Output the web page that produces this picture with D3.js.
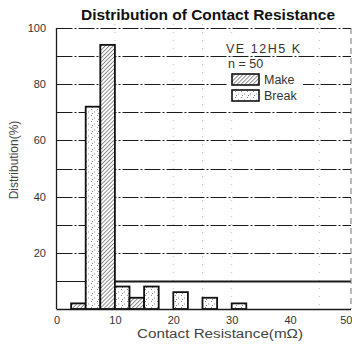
<!DOCTYPE html>
<html>
<head>
<meta charset="utf-8">
<script src="https://cdn.jsdelivr.net/npm/d3@7"></script>
<style>
  html, body { margin: 0; padding: 0; background: #fff; }
  svg { display: block; }
</style>
</head>
<body>
<svg id="chart" width="352" height="349"></svg>
<script>
// Histogram bins (lower edge, mΩ) — each bin is 2.5 mΩ wide
const binStart = [2.5, 5, 7.5, 10, 12.5, 15, 17.5, 20, 22.5, 25, 27.5, 30];
// Share of contacts in each bin (%), n = 50
const makeValues  = [2, 0, 94, 0, 4, 0, 0, 0, 0, 0, 0, 0];
const breakValues = [0, 72, 0, 8, 0, 8, 0, 6, 0, 4, 0, 2];
const binWidth = 2.5;

const xTicks = [0, 10, 20, 30, 40, 50];
const yTicks = [20, 40, 60, 80, 100];
const gridLevels = [10, 20, 30, 40, 50, 60, 70, 80, 90];

const svg = d3.select("#chart");
const x = d3.scaleLinear().domain([0, 50]).range([56.5, 348.5]);
const y = d3.scaleLinear().domain([0, 100]).range([309, 28]);

const defs = svg.append("defs");
// diagonal hatching for "Make"
const hatch = defs.append("pattern")
  .attr("id", "hatch").attr("patternUnits", "userSpaceOnUse")
  .attr("width", 2.8).attr("height", 2.8)
  .attr("patternTransform", "rotate(45)");
hatch.append("rect").attr("width", 2.8).attr("height", 2.8).attr("fill", "#fff");
hatch.append("line").attr("x1", 0).attr("y1", 0).attr("x2", 0).attr("y2", 2.8)
  .attr("stroke", "#333").attr("stroke-width", 1.1);
// sparse stipple for "Break"
const dots = defs.append("pattern")
  .attr("id", "dots").attr("patternUnits", "userSpaceOnUse")
  .attr("width", 6).attr("height", 6);
dots.append("rect").attr("width", 6).attr("height", 6).attr("fill", "#fff");
[[1, 1], [4, 3.5], [2, 5]].forEach(([cx, cy]) =>
  dots.append("rect").attr("x", cx).attr("y", cy).attr("width", 1).attr("height", 1).attr("fill", "#888"));

const ink = "#1a1a1a";
const fontFam = "'Liberation Sans', Arial, sans-serif";

// faint vertical guides
svg.append("g").selectAll("line")
  .data([10, 20, 25, 30, 45])
  .join("line")
  .attr("x1", d => x(d)).attr("x2", d => x(d))
  .attr("y1", y(100) - 4).attr("y2", y(0))
  .attr("stroke", "#aaa").attr("stroke-width", 0.8)
  .attr("stroke-dasharray", "1,7");

// horizontal grid (dash-dot)
svg.append("g").selectAll("line")
  .data(gridLevels)
  .join("line")
  .attr("x1", x(0)).attr("x2", 351)
  .attr("y1", d => Math.round(y(d)) + 0.5).attr("y2", d => Math.round(y(d)) + 0.5)
  .attr("stroke", ink).attr("stroke-width", 1.2)
  .attr("stroke-dasharray", d => d === 10 ? null : "16,2,2,2");

// heavier line at the 10 % level right of the main peak
svg.append("line")
  .attr("x1", x(10)).attr("x2", 351)
  .attr("y1", Math.round(y(10)) + 0.5).attr("y2", Math.round(y(10)) + 0.5)
  .attr("stroke", ink).attr("stroke-width", 2.2);

// top frame line at 100 %
svg.append("line")
  .attr("x1", x(0)).attr("x2", 351)
  .attr("y1", y(100) + 0.5).attr("y2", y(100) + 0.5)
  .attr("stroke", ink).attr("stroke-width", 1.2)
  .attr("stroke-dasharray", "16,2,2,2");
// right frame edge
svg.append("line")
  .attr("x1", 351).attr("x2", 351)
  .attr("y1", y(100)).attr("y2", y(0))
  .attr("stroke", "#777").attr("stroke-width", 1)
  .attr("stroke-dasharray", "6,4");

// bars
const bars = [];
binStart.forEach((b, i) => {
  if (makeValues[i] > 0) bars.push({ x0: b, v: makeValues[i], fill: "url(#hatch)" });
  if (breakValues[i] > 0) bars.push({ x0: b, v: breakValues[i], fill: "url(#dots)" });
});
svg.append("g").selectAll("rect")
  .data(bars)
  .join("rect")
  .attr("x", d => x(d.x0))
  .attr("width", d => x(d.x0 + binWidth) - x(d.x0))
  .attr("y", d => y(d.v))
  .attr("height", d => y(0) - y(d.v))
  .attr("fill", d => d.fill)
  .attr("stroke", "#111").attr("stroke-width", 1.8);

// axes lines
svg.append("line")
  .attr("x1", x(0)).attr("x2", x(0)).attr("y1", y(100)).attr("y2", y(0))
  .attr("stroke", ink).attr("stroke-width", 1.3);
svg.append("line")
  .attr("x1", x(0)).attr("x2", 351).attr("y1", y(0) + 0.5).attr("y2", y(0) + 0.5)
  .attr("stroke", ink).attr("stroke-width", 1.6);

// x tick labels
const xAxis = d3.axisBottom(x).tickValues(xTicks).tickSize(0).tickPadding(0).tickFormat(d3.format("d"));
const gx = svg.append("g").attr("transform", `translate(0,${y(0) + 7})`).call(xAxis);
gx.select(".domain").remove();
gx.selectAll("text").attr("font-family", fontFam).attr("font-size", 11).attr("fill", "#333").attr("dy", "0.71em");
// keep the last label inside the frame
gx.selectAll(".tick").filter(d => d === 50).select("text")
  .attr("text-anchor", "end").attr("x", 352 - x(50));

// y tick labels
const yAxis = d3.axisLeft(y).tickValues(yTicks).tickSize(0).tickPadding(0).tickFormat(d3.format("d"));
const gy = svg.append("g").attr("transform", `translate(46,0)`).call(yAxis);
gy.select(".domain").remove();
gy.selectAll("text").attr("font-family", fontFam).attr("font-size", 11).attr("fill", "#333");

// title
svg.append("text")
  .attr("x", 208).attr("y", 20)
  .attr("text-anchor", "middle")
  .attr("font-family", fontFam).attr("font-weight", "bold").attr("font-size", 15)
  .attr("textLength", 254).attr("lengthAdjust", "spacingAndGlyphs")
  .attr("fill", "#111")
  .text("Distribution of Contact Resistance");

// axis titles
svg.append("text")
  .attr("x", 220).attr("y", 338)
  .attr("text-anchor", "middle")
  .attr("font-family", fontFam).attr("font-size", 12.5).attr("fill", "#444")
  .attr("textLength", 166).attr("lengthAdjust", "spacingAndGlyphs")
  .text("Contact Resistance(mΩ)");
svg.append("text")
  .attr("transform", "translate(18,160) rotate(-90)")
  .attr("text-anchor", "middle")
  .attr("font-family", fontFam).attr("font-size", 12).attr("fill", "#444")
  .text("Distribution(%)");

// legend
const lg = svg.append("g");
lg.append("rect").attr("x", 227).attr("y", 60).attr("width", 76).attr("height", 46).attr("fill", "#fff");
lg.append("rect").attr("x", 222).attr("y", 40).attr("width", 82).attr("height", 14).attr("fill", "#fff");
lg.append("text").attr("x", 226).attr("y", 53)
  .attr("font-family", fontFam).attr("font-size", 12.5).attr("fill", "#333")
  .attr("textLength", 74).attr("lengthAdjust", "spacing")
  .text("VE 12H5 K");
lg.append("text").attr("x", 228).attr("y", 68)
  .attr("font-family", fontFam).attr("font-size", 12.5).attr("fill", "#333").text("n = 50");
const legendItems = [
  { label: "Make", fill: "url(#hatch)", y: 74 },
  { label: "Break", fill: "url(#dots)", y: 90 }
];
legendItems.forEach(it => {
  lg.append("rect").attr("x", 232).attr("y", it.y).attr("width", 27).attr("height", 11)
    .attr("fill", it.fill).attr("stroke", "#111").attr("stroke-width", 1.6);
  lg.append("text").attr("x", 264).attr("y", it.y + 10)
    .attr("font-family", fontFam).attr("font-size", 12.5).attr("fill", "#333").text(it.label);
});
</script>
</body>
</html>
